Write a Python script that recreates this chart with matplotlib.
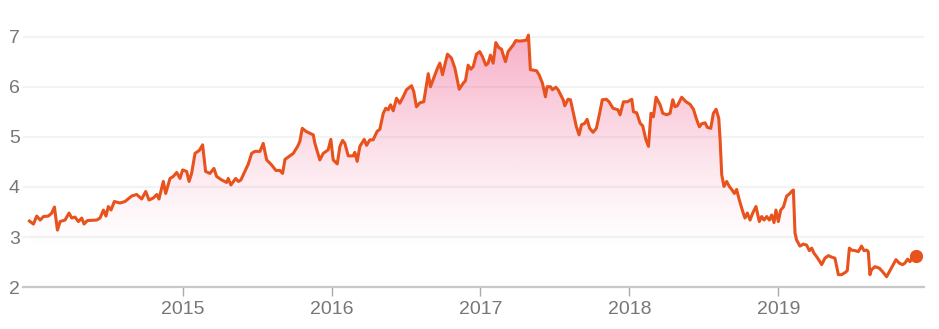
import numpy as np
import matplotlib
matplotlib.use("Agg")
import matplotlib.pyplot as plt
from matplotlib.colors import to_rgb

# ----------------------------------------------------------------------
# --- data (decimal year, price)

years = [
    2013.971, 2013.998, 2014.020, 2014.043, 2014.065, 2014.098, 2014.121, 2014.139, 2014.159, 2014.177,
    2014.210, 2014.237, 2014.255, 2014.277, 2014.300, 2014.322, 2014.338, 2014.360, 2014.423, 2014.445,
    2014.468, 2014.485, 2014.501, 2014.519, 2014.541, 2014.579, 2014.613, 2014.658, 2014.691, 2014.725,
    2014.752, 2014.774, 2014.803, 2014.826, 2014.841, 2014.870, 2014.886, 2014.915, 2014.937, 2014.960,
    2014.982, 2015.000, 2015.027, 2015.043, 2015.060, 2015.083, 2015.112, 2015.134, 2015.154, 2015.183,
    2015.210, 2015.228, 2015.262, 2015.295, 2015.306, 2015.324, 2015.356, 2015.374, 2015.391, 2015.441,
    2015.463, 2015.485, 2015.519, 2015.541, 2015.564, 2015.597, 2015.626, 2015.653, 2015.671, 2015.687,
    2015.720, 2015.743, 2015.772, 2015.787, 2015.803, 2015.828, 2015.855, 2015.877, 2015.888, 2015.921,
    2015.944, 2015.977, 2015.995, 2016.011, 2016.038, 2016.056, 2016.074, 2016.089, 2016.112, 2016.145,
    2016.156, 2016.172, 2016.190, 2016.219, 2016.235, 2016.257, 2016.279, 2016.306, 2016.324, 2016.347,
    2016.364, 2016.380, 2016.396, 2016.414, 2016.436, 2016.458, 2016.481, 2016.503, 2016.537, 2016.552,
    2016.570, 2016.593, 2016.619, 2016.649, 2016.664, 2016.682, 2016.711, 2016.727, 2016.745, 2016.778,
    2016.805, 2016.828, 2016.857, 2016.884, 2016.899, 2016.917, 2016.935, 2016.951, 2016.973, 2016.995,
    2017.013, 2017.036, 2017.051, 2017.067, 2017.085, 2017.103, 2017.123, 2017.141, 2017.156, 2017.168,
    2017.185, 2017.219, 2017.237, 2017.264, 2017.291, 2017.309, 2017.322, 2017.335, 2017.376, 2017.393,
    2017.416, 2017.436, 2017.447, 2017.470, 2017.483, 2017.506, 2017.521, 2017.555, 2017.566, 2017.588,
    2017.604, 2017.626, 2017.644, 2017.662, 2017.678, 2017.700, 2017.716, 2017.733, 2017.756, 2017.778,
    2017.800, 2017.818, 2017.845, 2017.863, 2017.890, 2017.923, 2017.937, 2017.960, 2017.987, 2018.016,
    2018.027, 2018.049, 2018.072, 2018.089, 2018.110, 2018.128, 2018.145, 2018.161, 2018.179, 2018.206,
    2018.224, 2018.251, 2018.273, 2018.291, 2018.306, 2018.322, 2018.351, 2018.380, 2018.407, 2018.430,
    2018.452, 2018.470, 2018.485, 2018.508, 2018.523, 2018.546, 2018.564, 2018.582, 2018.600, 2018.609,
    2018.620, 2018.635, 2018.653, 2018.671, 2018.687, 2018.705, 2018.720, 2018.738, 2018.761, 2018.776,
    2018.792, 2018.810, 2018.828, 2018.850, 2018.872, 2018.888, 2018.904, 2018.922, 2018.940, 2018.955,
    2018.971, 2018.984, 2019.000, 2019.016, 2019.034, 2019.056, 2019.074, 2019.089, 2019.101, 2019.112,
    2019.123, 2019.145, 2019.168, 2019.190, 2019.208, 2019.224, 2019.239, 2019.257, 2019.275, 2019.291,
    2019.313, 2019.336, 2019.358, 2019.380, 2019.403, 2019.425, 2019.447, 2019.463, 2019.477, 2019.492,
    2019.515, 2019.537, 2019.559, 2019.575, 2019.593, 2019.604, 2019.615, 2019.626, 2019.649, 2019.678,
    2019.700, 2019.727, 2019.749, 2019.767, 2019.790, 2019.812, 2019.834, 2019.850, 2019.868, 2019.884,
    2019.902, 2019.922,
]

prices = [
    3.32, 3.26, 3.42, 3.34, 3.41, 3.42, 3.48, 3.60, 3.14, 3.31,
    3.34, 3.48, 3.38, 3.40, 3.31, 3.38, 3.26, 3.33, 3.34, 3.38,
    3.54, 3.42, 3.61, 3.54, 3.71, 3.68, 3.71, 3.82, 3.85, 3.76,
    3.91, 3.74, 3.78, 3.85, 3.76, 4.11, 3.87, 4.17, 4.21, 4.29,
    4.17, 4.34, 4.31, 4.11, 4.27, 4.67, 4.73, 4.84, 4.31, 4.27,
    4.37, 4.21, 4.14, 4.09, 4.17, 4.04, 4.17, 4.11, 4.14, 4.46,
    4.67, 4.71, 4.71, 4.87, 4.54, 4.44, 4.33, 4.33, 4.27, 4.55,
    4.62, 4.67, 4.81, 4.91, 5.17, 5.11, 5.07, 5.04, 4.87, 4.54,
    4.67, 4.74, 4.95, 4.54, 4.46, 4.81, 4.93, 4.87, 4.62, 4.62,
    4.69, 4.51, 4.81, 4.95, 4.83, 4.94, 4.94, 5.11, 5.15, 5.47,
    5.57, 5.54, 5.64, 5.52, 5.77, 5.67, 5.80, 5.94, 6.02, 5.90,
    5.60, 5.68, 5.70, 6.26, 6.00, 6.14, 6.37, 6.47, 6.24, 6.65,
    6.57, 6.37, 5.95, 6.07, 6.12, 6.43, 6.35, 6.40, 6.65, 6.70,
    6.60, 6.43, 6.47, 6.63, 6.47, 6.88, 6.78, 6.75, 6.60, 6.50,
    6.70, 6.83, 6.92, 6.91, 6.92, 6.93, 7.03, 6.34, 6.32, 6.24,
    6.07, 5.80, 6.00, 6.00, 5.94, 5.99, 5.94, 5.74, 5.62, 5.75,
    5.74, 5.44, 5.20, 5.04, 5.24, 5.27, 5.35, 5.17, 5.09, 5.17,
    5.47, 5.74, 5.75, 5.70, 5.57, 5.54, 5.44, 5.70, 5.70, 5.75,
    5.50, 5.48, 5.27, 5.22, 4.95, 4.81, 5.47, 5.40, 5.79, 5.64,
    5.47, 5.44, 5.47, 5.74, 5.60, 5.62, 5.79, 5.70, 5.65, 5.55,
    5.34, 5.20, 5.26, 5.28, 5.19, 5.17, 5.47, 5.55, 5.37, 4.94,
    4.24, 4.01, 4.11, 4.01, 3.95, 3.87, 3.95, 3.74, 3.51, 3.38,
    3.48, 3.34, 3.48, 3.61, 3.31, 3.41, 3.34, 3.41, 3.34, 3.44,
    3.29, 3.54, 3.31, 3.54, 3.60, 3.82, 3.86, 3.91, 3.94, 3.08,
    2.94, 2.82, 2.86, 2.84, 2.73, 2.78, 2.68, 2.61, 2.53, 2.45,
    2.58, 2.63, 2.60, 2.58, 2.25, 2.25, 2.29, 2.33, 2.78, 2.74,
    2.73, 2.71, 2.82, 2.73, 2.74, 2.71, 2.25, 2.35, 2.41, 2.38,
    2.31, 2.21, 2.33, 2.43, 2.55, 2.48, 2.45, 2.48, 2.56, 2.51,
    2.60, 2.63,
]

xtick_years = [2015, 2016, 2017, 2018, 2019]
ytick_values = [2, 3, 4, 5, 6, 7]

line_col = '#e8521d'
fill_col = '#ec407a'
text_col = '#777777'

plt.rcParams['font.family'] = ['Liberation Sans', 'DejaVu Sans']

fig = plt.figure(figsize=(9.39, 3.29), dpi=100)
ax = fig.add_axes([0.0242, 0.127, 0.9598, 0.873])

x = np.array(years)
y = np.array(prices)

# gradient fill under the line, clipped to the area polygon
ymin, ymax = 2.0, 7.73
poly = ax.fill_between(x, y, ymin, color='none', lw=0)
grad = np.linspace(0.0, 1.0, 256)[:, None]
alpha = np.clip((grad * (ymax - ymin) + ymin - 2.7) / (7.0 - 2.7), 0, 1) ** 1.3 * 0.42
rgba = np.zeros((256, 1, 4))
rgba[..., :3] = to_rgb(fill_col)
rgba[..., 3] = alpha
im = ax.imshow(rgba, aspect='auto', origin='lower',
               extent=[x.min(), x.max(), ymin, ymax], zorder=1)
path = poly.get_paths()[0]
im.set_clip_path(path, transform=ax.transData)

ax.plot(x, y, color=line_col, lw=2.2, zorder=3, solid_joinstyle='round')
ax.plot(x[-1], y[-1], 'o', color=line_col, ms=8.5, zorder=4)

ax.set_xlim(2013.926, 2019.978)
ax.set_ylim(ymin, ymax)

for v in ytick_values[1:]:
    ax.axhline(v, color='#f3f3f3', lw=1.5, zorder=0)

ax.set_xticks(xtick_years)
ax.set_xticklabels([str(v) for v in xtick_years])
ax.set_yticks(ytick_values)
ax.set_yticklabels([str(v) for v in ytick_values])
ax.tick_params(axis='x', length=6.5, width=1, color='#aaaaaa', pad=3.2,
               labelsize=14, labelcolor=text_col)
ax.tick_params(axis='y', length=0, pad=2, labelsize=14, labelcolor=text_col)

for s in ['top', 'right', 'left']:
    ax.spines[s].set_visible(False)
ax.spines['bottom'].set_color('#c8c8c8')
ax.spines['bottom'].set_linewidth(1.6)

fig.savefig('out.png', dpi=100)
